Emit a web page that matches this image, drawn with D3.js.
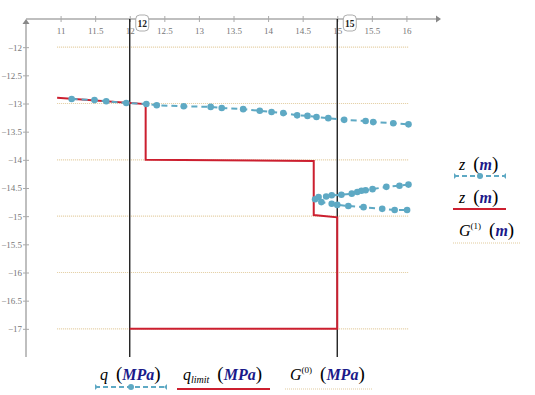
<!DOCTYPE html>
<html>
<head>
<meta charset="utf-8">
<script src="https://cdn.jsdelivr.net/npm/d3@7"></script>
<style>
  body { margin: 0; background: #fff; }
  svg { display: block; }
  svg text { font-family: "Liberation Serif", "DejaVu Serif", serif; }
</style>
</head>
<body>
<svg id="chart" width="535" height="395"></svg>
<script>
// q (MPa) vs z (m), upper branch
const qUpperX = [11.16, 11.49, 11.66, 11.95, 12.24, 12.39, 12.78, 13.17, 13.33, 13.64, 13.88, 14.05, 14.22, 14.42, 14.57, 14.70, 14.87, 15.10, 15.41, 15.52, 15.81, 16.03];
const qUpperY = [-12.92, -12.94, -12.96, -12.99, -13.01, -13.03, -13.05, -13.06, -13.08, -13.10, -13.13, -13.15, -13.17, -13.21, -13.22, -13.24, -13.26, -13.29, -13.31, -13.33, -13.35, -13.37];
// lower branch: right end (upper arm) back to the tip, then out along the lower arm
const qLowerX = [16.03, 15.90, 15.71, 15.51, 15.41, 15.35, 15.29, 15.21, 15.06, 14.92, 14.84, 14.73, 14.68, 14.77, 14.92, 15.00, 15.16, 15.38, 15.65, 15.83, 16.01];
const qLowerY = [-14.44, -14.46, -14.48, -14.52, -14.54, -14.55, -14.57, -14.60, -14.62, -14.63, -14.65, -14.66, -14.70, -14.75, -14.78, -14.80, -14.82, -14.84, -14.87, -14.89, -14.89];
// q_limit (MPa)
const limX = [10.95, 12.23, 12.23, 14.66, 14.66, 15.0, 15.0, 12.0];
const limY = [-12.90, -13.01, -14.0, -14.02, -14.98, -15.02, -17.0, -17.0];
// G(0)/G(1): horizontal guide lines
const gridLevels = [-12, -13, -14, -15, -16, -17];
const gridFrom = 10.95, gridTo = 16.03;
// vertical markers
const markers = [12, 15];
const xTicks = d3.range(11, 16.01, 0.5);
const yTicks = d3.range(-12, -17.01, -0.5);

const BLUE = "#5ea9c4", RED = "#cc1f2f", TAN = "#e2cc9e", NAVY = "#1a1a8a";
const svg = d3.select("#chart");
const x = d3.scaleLinear().domain([10.5, 16.5]).range([26, 441]);
const y = d3.scaleLinear().domain([-11.5, -17.5]).range([19, 357]);
const x0 = x(10.5), y0 = y(-11.5);

// guide lines
svg.append("g").selectAll("line").data(gridLevels).enter().append("line")
  .attr("x1", x(gridFrom)).attr("x2", x(gridTo))
  .attr("y1", d => y(d)).attr("y2", d => y(d))
  .attr("stroke", TAN).attr("stroke-width", 1.2).attr("stroke-dasharray", "1,1");

// axes
const fmt = d => d3.format("")(d).replace("-", "\u2212");
const xAxis = svg.append("g").attr("transform", `translate(0,${y0})`)
  .call(d3.axisBottom(x).tickValues(xTicks).tickSize(0).tickPadding(9).tickFormat(fmt));
xAxis.select(".domain").attr("d", `M${x0},0H${x(16.5) - 4}`).attr("stroke", "#aaa").attr("stroke-width", 1.5);
xAxis.selectAll(".tick text").attr("fill", "#777").attr("font-size", 9);
xAxis.selectAll(".tick").append("line").attr("y1", -3).attr("y2", 3).attr("stroke", "#aaa");

const yAxis = svg.append("g").attr("transform", `translate(${x0},0)`)
  .call(d3.axisLeft(y).tickValues(yTicks).tickSize(0).tickPadding(4).tickFormat(fmt));
yAxis.select(".domain").attr("d", `M0,${y0 + 4}V${y(-17.5)}`).attr("stroke", "#aaa").attr("stroke-width", 1.5);
yAxis.selectAll(".tick text").attr("fill", "#777").attr("font-size", 9);
yAxis.selectAll(".tick").append("line").attr("x1", -3).attr("x2", 3).attr("stroke", "#aaa");

svg.append("path").attr("d", `M${x(16.5) - 5},${y0 - 3.5}L${x(16.5)},${y0}L${x(16.5) - 5},${y0 + 3.5}Z`).attr("fill", "#888");
svg.append("path").attr("d", `M${x0 - 3.5},${y0 + 5}L${x0},${y0}L${x0 + 3.5},${y0 + 5}Z`).attr("fill", "#888");

// vertical markers
const mk = svg.append("g").selectAll("g").data(markers).enter().append("g");
mk.append("line")
  .attr("x1", d => x(d)).attr("x2", d => x(d))
  .attr("y1", y0).attr("y2", y(-17.5))
  .attr("stroke", "#111").attr("stroke-width", 1.3);
mk.append("rect")
  .attr("x", d => x(d) + 6).attr("y", y0 - 4).attr("width", 13).attr("height", 16).attr("rx", 4)
  .attr("fill", "#fff").attr("stroke", "#999").attr("stroke-width", 0.8);
mk.append("text")
  .attr("x", d => x(d) + 12.5).attr("y", y0 + 7.5).attr("text-anchor", "middle")
  .attr("font-size", 9.5).attr("font-weight", "bold")
  .attr("fill", "#222").text(d => d);

// q_limit
const lim = limX.map((v, i) => [v, limY[i]]);
svg.append("path").datum(lim)
  .attr("d", d3.line().x(d => x(d[0])).y(d => y(d[1])))
  .attr("fill", "none").attr("stroke", RED).attr("stroke-width", 2);

// q
const upper = qUpperX.map((v, i) => [v, qUpperY[i]]);
const lower = qLowerX.map((v, i) => [v, qLowerY[i]]);
const qLine = d3.line().x(d => x(d[0])).y(d => y(d[1]));
[upper, lower].forEach(seg => {
  svg.append("path").datum(seg).attr("d", qLine)
    .attr("fill", "none").attr("stroke", BLUE).attr("stroke-width", 2).attr("stroke-dasharray", "6,4");
  svg.append("g").selectAll("circle").data(seg).enter().append("circle")
    .attr("cx", d => x(d[0])).attr("cy", d => y(d[1])).attr("r", 3.3).attr("fill", BLUE);
});

// legends
function label(g, tx, ty, parts) {
  const t = g.append("text").attr("x", tx).attr("y", ty).attr("font-size", 16);
  parts.forEach(p => {
    const s = t.append("tspan").text(p.t).attr("font-style", p.i ? "italic" : "normal");
    if (p.b) s.attr("font-weight", "bold");
    if (p.c) s.attr("fill", p.c);
    if (p.fs) s.attr("font-size", p.fs);
    if (p.dy) s.attr("dy", p.dy);
  });
}
function blueSample(g, x1, x2, yy) {
  g.append("line").attr("x1", x1).attr("x2", x2).attr("y1", yy).attr("y2", yy)
    .attr("stroke", BLUE).attr("stroke-width", 2).attr("stroke-dasharray", "5,3");
  g.append("circle").attr("cx", (x1 + x2) / 2).attr("cy", yy).attr("r", 3).attr("fill", BLUE);
  g.append("path").attr("d", `M${x1},${yy - 3}L${x1 + 3},${yy}L${x1},${yy + 3}Z`).attr("fill", BLUE);
  g.append("path").attr("d", `M${x2},${yy - 3}L${x2 - 3},${yy}L${x2},${yy + 3}Z`).attr("fill", BLUE);
}
const leg = svg.append("g");
const paren = (s) => ({ t: s, fs: 19 });
// right
label(leg, 459, 170, [{ t: "z", i: 1 }, { t: "\u2002" }, paren("("), { t: "m", i: 1, b: 1, c: NAVY }, paren(")")]);
blueSample(leg, 454, 506, 176);
label(leg, 459, 203, [{ t: "z", i: 1 }, { t: "\u2002" }, paren("("), { t: "m", i: 1, b: 1, c: NAVY }, paren(")")]);
leg.append("line").attr("x1", 453).attr("x2", 506).attr("y1", 209).attr("y2", 209).attr("stroke", RED).attr("stroke-width", 2);
label(leg, 459, 236, [{ t: "G", i: 1 }, { t: "(1)", fs: 9, dy: -7 }, { t: "\u2002", dy: 7 }, paren("("), { t: "m", i: 1, b: 1, c: NAVY }, paren(")")]);
leg.append("line").attr("x1", 453).attr("x2", 521).attr("y1", 243).attr("y2", 243).attr("stroke", TAN).attr("stroke-width", 1.2).attr("stroke-dasharray", "1,1");
// bottom
label(leg, 100, 380, [{ t: "q", i: 1 }, { t: "\u2002" }, paren("("), { t: "MPa", i: 1, b: 1, c: NAVY }, paren(")")]);
blueSample(leg, 95, 167, 387);
label(leg, 183, 380, [{ t: "q", i: 1 }, { t: "limit", i: 1, fs: 10, dy: 3 }, { t: "\u2002", dy: -3 }, paren("("), { t: "MPa", i: 1, b: 1, c: NAVY }, paren(")")]);
leg.append("line").attr("x1", 177).attr("x2", 270).attr("y1", 389).attr("y2", 389).attr("stroke", RED).attr("stroke-width", 2);
label(leg, 290, 380, [{ t: "G", i: 1 }, { t: "(0)", fs: 9, dy: -7 }, { t: "\u2002", dy: 7 }, paren("("), { t: "MPa", i: 1, b: 1, c: NAVY }, paren(")")]);
leg.append("line").attr("x1", 285).attr("x2", 372).attr("y1", 389).attr("y2", 389).attr("stroke", TAN).attr("stroke-width", 1.2).attr("stroke-dasharray", "1,1");
</script>
</body>
</html>
